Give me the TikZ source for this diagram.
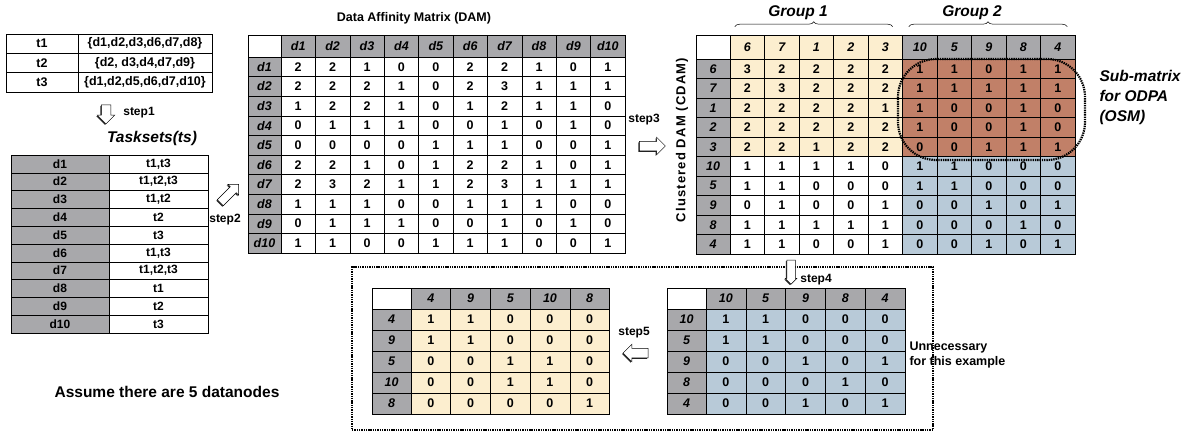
\documentclass[tikz,border=0pt]{standalone}
\usepackage{fontspec}
\setmainfont{Liberation Sans}
\usetikzlibrary{shapes.arrows, shadows, decorations.pathreplacing}

\definecolor{hdrgray}{RGB}{168,168,171}
\definecolor{grpone}{RGB}{252,238,207}
\definecolor{osmred}{RGB}{193,128,104}
\definecolor{grptwo}{RGB}{184,202,216}

\tikzset{
  cell/.style={draw, line width=.6pt, inner sep=0pt, fill=white,
    font=\fontsize{12.5}{14}\selectfont\bfseries},
  hdr/.style={cell, fill=hdrgray, font=\fontsize{12.5}{14}\selectfont\bfseries\itshape},
  hdr0/.style={fill=grpone}, hdr1/.style={fill=hdrgray},
  blk0/.style={fill=grpone}, blk1/.style={fill=osmred},
  blk2/.style={fill=white}, blk3/.style={fill=grptwo},
  blockarrow/.style={single arrow, draw, fill=white, line width=.5pt, inner sep=4.5pt,
    single arrow head extend=4pt, minimum height=#1,
    general shadow={fill=black!85, shadow xshift=-1pt, shadow yshift=-1pt}},
  steplabel/.style={font=\fontsize{12}{14}\selectfont\bfseries},
  heading/.style={font=\fontsize{15.5}{20}\selectfont\bfseries\itshape},
  dotline/.style={draw, line width=2.2pt, dash pattern=on 1.4pt off .9pt},
  brace/.style={decorate, decoration={brace, amplitude=5pt}, line width=.5pt},
}

\begin{document}
\begin{tikzpicture}[x=1pt, y=-1pt]
    \useasboundingbox (0,0) rectangle (1190,432);

    % tasks and their data
    \foreach \t/\ds [count=\i] in {t1/{\{d1,d2,d3,d6,d7,d8\}}, t2/{\{d2, d3,d4,d7,d9\}},
                                   t3/{\{d1,d2,d5,d6,d7,d10\}}} {
        \node[cell, minimum width=72, minimum height=19.33]
            (task-\i) at (42, {34+(\i-0.5)*19.33}) {\t};
        \node[cell, minimum width=134, minimum height=19.33]
            (dset-\i) at (145, {34+(\i-0.5)*19.33}) {\ds};
    }

    % tasksets
    \node[heading] (ts-title) at (152,138) {Tasksets(ts)};
    \foreach \ts [count=\i] in {{t1,t3},{t1,t2,t3},{t1,t2},t2,t3,{t1,t3},{t1,t2,t3},t1,t2,t3} {
        \node[hdr, minimum width=98, minimum height=17.8, font=\fontsize{12}{14}\selectfont\bfseries]
            (ts-d\i) at (60, {155+(\i-0.5)*17.8}) {d\i};
        \node[cell, minimum width=99, minimum height=17.8, font=\fontsize{12}{14}\selectfont\bfseries]
            (ts-t\i) at (158.5, {155+(\i-0.5)*17.8}) {\ts};
    }

    % DAM
    \node[font=\fontsize{12.5}{15}\selectfont\bfseries] (dam-title) at (414,18) {Data Affinity Matrix (DAM)};
    \node[cell, minimum width=33, minimum height=22] (dam-0) at (264.5,46) {};
    \foreach \j in {1,...,10}
        \node[hdr, minimum width=34.4, minimum height=22] (dam-h\j) at ({281+(\j-0.5)*34.4},46) {d\j};
    \foreach \row [count=\i] in {
        {2,2,1,0,0,2,2,1,0,1}, {2,2,2,1,0,2,3,1,1,1}, {1,2,2,1,0,1,2,1,1,0},
        {0,1,1,1,0,0,1,0,1,0}, {0,0,0,0,1,1,1,0,0,1}, {2,2,1,0,1,2,2,1,0,1},
        {2,3,2,1,1,2,3,1,1,1}, {1,1,1,0,0,1,1,1,0,0}, {0,1,1,1,0,0,1,0,1,0},
        {1,1,0,0,1,1,1,0,0,1}} {
        \node[hdr, minimum width=33, minimum height=19.6] (dam-r\i) at (264.5,{57+(\i-0.5)*19.6}) {d\i};
        \foreach \v [count=\j] in \row
            \node[cell, minimum width=34.4, minimum height=19.6]
                (dam-\i-\j) at ({281+(\j-0.5)*34.4},{57+(\i-0.5)*19.6}) {\v};
    }

    % clustered DAM
    \node[rotate=90, font=\fontsize{13}{15}\selectfont\bfseries\addfontfeature{LetterSpace=9}]
        (cdam-title) at (682,140) {Clustered DAM (CDAM)};
    \node[cell, minimum width=34, minimum height=24] (cdam-0) at (713,47) {};
    \foreach \n [count=\j] in {6,7,1,2,3,10,5,9,8,4} {
        \pgfmathtruncatemacro\grp{\j>5}
        \node[hdr, hdr\grp, minimum width=34.5, minimum height=24] (cdam-h\j) at ({730+(\j-0.5)*34.5},47) {\n};
        \node[hdr, minimum width=34, minimum height=19.5] (cdam-r\j) at (713,{59+(\j-0.5)*19.5}) {\n};
    }
    \foreach \row [count=\i] in {
        {3,2,2,2,2,1,1,0,1,1}, {2,3,2,2,2,1,1,1,1,1}, {2,2,2,2,1,1,0,0,1,0},
        {2,2,2,2,2,1,0,0,1,0}, {2,2,1,2,2,0,0,1,1,1}, {1,1,1,1,0,1,1,0,0,0},
        {1,1,0,0,0,1,1,0,0,0}, {0,1,0,0,1,0,0,1,0,1}, {1,1,1,1,1,0,0,0,1,0},
        {1,1,0,0,1,0,0,1,0,1}} {
        \foreach \v [count=\j] in \row {
            \pgfmathtruncatemacro\blk{2*(\i>5)+(\j>5)}
            \node[cell, blk\blk, minimum width=34.5, minimum height=19.5]
                (cdam-\i-\j) at ({730+(\j-0.5)*34.5},{59+(\i-0.5)*19.5}) {\v};
        }
    }

    % groups
    \draw[brace] ([shift={(5,-8)}]cdam-h1.north west) -- ([shift={(-10,-8)}]cdam-h5.north east);
    \draw[brace] ([shift={(6.5,-8)}]cdam-h6.north west) -- ([shift={(-8,-8)}]cdam-h10.north east);
    \node[heading] (grp1) at (798,13) {Group 1};
    \node[heading] (grp2) at (972,13) {Group 2};

    % OSM
    \node[dotline, rounded corners=38pt, minimum width=187, minimum height=101, inner sep=0pt]
        (osm) at (991.5,109.5) {};
    \node[heading, anchor=west, align=left] (osm-label) at (1096,97) {Sub-matrix\\for ODPA\\(OSM)};

    % sub-matrix of group 2
    \node[dotline, minimum width=581, minimum height=163, inner sep=0pt] (stepbox) at (642.5,348.5) {};
    \node[cell, minimum width=39, minimum height=21] (sub-0) at (686.5,298.5) {};
    \foreach \n [count=\j] in {10,5,9,8,4} {
        \node[hdr, minimum width=39.8, minimum height=21] (sub-h\j) at ({706+(\j-0.5)*39.8},298.5) {\n};
        \node[hdr, minimum width=39, minimum height=21] (sub-r\j) at (686.5,{309+(\j-0.5)*21}) {\n};
    }
    \foreach \row [count=\i] in {{1,1,0,0,0}, {1,1,0,0,0}, {0,0,1,0,1}, {0,0,0,1,0}, {0,0,1,0,1}}
        \foreach \v [count=\j] in \row
            \node[cell, blk3, minimum width=39.8, minimum height=21]
                (sub-\i-\j) at ({706+(\j-0.5)*39.8},{309+(\i-0.5)*21}) {\v};

    % reordered sub-matrix
    \node[cell, minimum width=39, minimum height=21] (ord-0) at (391.5,298.5) {};
    \foreach \n [count=\j] in {4,9,5,10,8} {
        \node[hdr, minimum width=39.7, minimum height=21] (ord-h\j) at ({411+(\j-0.5)*39.7},298.5) {\n};
        \node[hdr, minimum width=39, minimum height=21] (ord-r\j) at (391.5,{309+(\j-0.5)*21}) {\n};
    }
    \foreach \row [count=\i] in {{1,1,0,0,0}, {1,1,0,0,0}, {0,0,1,1,0}, {0,0,1,1,0}, {0,0,0,0,1}}
        \foreach \v [count=\j] in \row
            \node[cell, blk0, minimum width=39.7, minimum height=21]
                (ord-\i-\j) at ({411+(\j-0.5)*39.7},{309+(\i-0.5)*21}) {\v};

    % steps
    \node[blockarrow=19, rotate=-90] (arr1) at (106,112) {};
    \node[steplabel] (step1) at (139,113) {step1};
    \node[blockarrow=26, rotate=45, inner sep=4pt, single arrow head extend=3.5pt] (arr2) at (228,195) {};
    \node[steplabel] (step2) at (225,220) {step2};
    \node[blockarrow=26] (arr3) at (650,146) {};
    \node[steplabel] (step3) at (644,120) {step3};
    \node[blockarrow=24, rotate=-90, inner sep=4pt, single arrow head extend=1.5pt] (arr4) at (791,270) {};
    \node[steplabel] (step4) at (816,280) {step4};
    \node[blockarrow=25, rotate=180] (arr5) at (638,353) {};
    \node[steplabel] (step5) at (634,333) {step5};

    \node[anchor=west, align=left, font=\fontsize{12.5}{15}\selectfont\bfseries] (note) at (906,355)
        {Unnecessary\\for this example};
    \node[font=\fontsize{15.5}{18}\selectfont\bfseries] (assume) at (167,392) {Assume there are 5 datanodes};
\end{tikzpicture}
\end{document}
